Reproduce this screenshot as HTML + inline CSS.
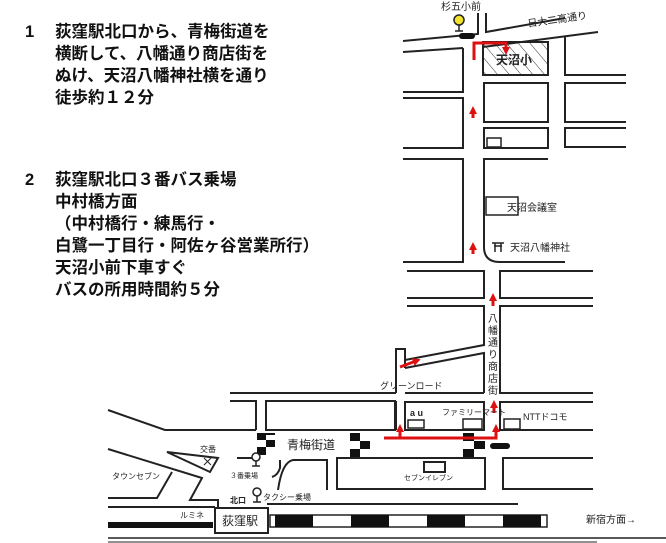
<!DOCTYPE html>
<html><head><meta charset="utf-8"><style>
html,body{margin:0;padding:0;background:#fff;}
body{width:666px;height:543px;overflow:hidden;position:relative;font-family:"Liberation Sans","Noto Sans CJK JP",sans-serif;}
.t{position:absolute;font-weight:bold;font-size:16.5px;line-height:22px;color:#111;white-space:nowrap;}
</style></head><body>
<div class="t" style="left:25px;top:21px;">1</div>
<div class="t" style="left:55px;top:21px;">荻窪駅北口から、青梅街道を<br>横断して、八幡通り商店街を<br>ぬけ、天沼八幡神社横を通り<br>徒歩約１２分</div>
<div class="t" style="left:25px;top:169px;">2</div>
<div class="t" style="left:55px;top:169px;">荻窪駅北口３番バス乗場<br>中村橋方面<br>（中村橋行・練馬行・<br>白鷺一丁目行・阿佐ヶ谷営業所行）<br>天沼小前下車すぐ<br>バスの所用時間約５分</div>
<svg width="666" height="543" style="position:absolute;left:0;top:0" xmlns="http://www.w3.org/2000/svg">
<defs>
<pattern id="h" width="9" height="9" patternUnits="userSpaceOnUse" patternTransform="rotate(-40)"><line x1="0" y1="0" x2="0" y2="9" stroke="#333" stroke-width="1"/></pattern>
<marker id="ar" markerUnits="userSpaceOnUse" markerWidth="8" markerHeight="8" refX="3" refY="4" orient="auto"><path d="M0,0 L8,4 L0,8 z" fill="#d11"/></marker>
</defs>
<g stroke="#222" stroke-width="2" fill="none">
<path d="M403,41 L478,34 L478,13 M486,13 L486,32 L565,18"/>
<path d="M403,52 L463,48 M483,47 L598,32"/>
<path d="M463,48 L463,92 L403,92"/>
<path d="M565,37 L565,75 L626,75"/>
<path d="M403,98 L463,98 L463,148 L403,148"/>
<path d="M403,159 L463,159 L463,262 L403,262"/>
<rect x="484" y="83" width="64" height="39"/>
<rect x="484" y="128" width="64" height="20"/>
<rect x="487" y="138" width="14" height="9" stroke-width="1.5"/>
<path d="M626,83 L565,83 L565,122 L626,122"/>
<path d="M626,128 L565,128 L565,147 L626,147"/>
<path d="M548,159 L484,159 L484,247 Q484,262 500,262 L565,262"/>
<rect x="486" y="197" width="32" height="18" stroke-width="1.5"/>
<path d="M407,271 L484,271 L484,298 L407,298"/>
<path d="M593,271 L500,271 L500,298 L593,298"/>
<path d="M407,306 L484,306 L484,345 L405,360"/>
<path d="M405,368 L484,353 L484,393"/>
<path d="M593,393 L500,393 L500,306 L593,306"/>
<path d="M396,393 L396,349 L405,349 L405,368"/>
<path d="M230,393 L396,393"/>
<path d="M405,393 L484,393" />
<path d="M230,401 L256,401 L256,430"/>
<rect x="266" y="401" width="129" height="29"/>
<path d="M396,401 L396,430"/>
<rect x="405" y="402" width="79" height="28"/>
<path d="M593,402 L500,402 L500,430 L593,430"/>
<rect x="408" y="420" width="16" height="8" stroke-width="1.5"/>
<rect x="463" y="419" width="19" height="10" stroke-width="1.5"/>
<rect x="504" y="419" width="16" height="10" stroke-width="1.5"/>
<path d="M108,410 L165,430 L256,430"/>
<path d="M278,490 Q282,462 293,460 L327,460 L327,490"/>
<rect x="337" y="458" width="148" height="31"/>
<path d="M593,458 L503,458 L503,489 L593,489"/>
<rect x="424" y="462" width="21" height="10" stroke-width="2"/>
<path d="M267,504 L518,504"/>
<path d="M108,449 L202,478 L190,500 L218,500 L218,507"/>
<path d="M108,498 L157,498 L172,472"/>
<path d="M167,452 L218,458 L210,472 Z"/>
<path d="M204,458 L211,465 M211,458 L204,465" stroke-width="1"/>
<path d="M237,458 L252,458"/>
<path d="M280,460 L280,468 Q278,475 272,477"/>
<path d="M108,507 L215,507"/>
<rect x="270" y="515" width="277" height="12" stroke-width="1.5"/>
<rect x="215" y="508" width="53" height="25" fill="#fff"/>
<line x1="108" y1="538" x2="666" y2="538" stroke-width="1.5"/>
<line x1="108" y1="542" x2="597" y2="542" stroke-width="1"/>
</g>
<rect x="483" y="42" width="65" height="33" fill="url(#h)" stroke="#222" stroke-width="2"/>
<g fill="#111">
<rect x="275" y="515" width="38" height="12"/><rect x="351" y="515" width="38" height="12"/>
<rect x="427" y="515" width="38" height="12"/><rect x="503" y="515" width="38" height="12"/>
<rect x="108" y="522" width="105" height="6"/>
</g>
<g fill="#111">
<rect x="257" y="433" width="9" height="7"/><rect x="266" y="440" width="9" height="7"/><rect x="257" y="447" width="9" height="8"/><rect x="266" y="433" width="9" height="2"/>
<rect x="350" y="433" width="10" height="8"/><rect x="360" y="441" width="10" height="8"/><rect x="350" y="449" width="10" height="8"/>
<rect x="463" y="433" width="11" height="8"/><rect x="474" y="441" width="11" height="8"/><rect x="463" y="449" width="11" height="8"/>
</g>
<rect x="490" y="443" width="20" height="6" rx="3" fill="#111"/>
<rect x="459" y="33" width="16" height="6" rx="3" fill="#111"/>
<g stroke="#222" stroke-width="1.5">
<circle cx="459" cy="20" r="5" fill="#f3e22a"/><line x1="459" y1="25" x2="459" y2="31"/><line x1="455" y1="31" x2="463" y2="31"/>
<circle cx="256" cy="457" r="4" fill="#fff"/><line x1="256" y1="461" x2="256" y2="466"/><line x1="252" y1="466" x2="260" y2="466"/>
<circle cx="257" cy="492" r="4" fill="#fff"/><line x1="257" y1="496" x2="257" y2="502"/><line x1="253" y1="502" x2="261" y2="502"/>
</g>
<g stroke="#d11" stroke-width="3" fill="none">
<path d="M474,60 L474,43 L506,43 L506,50" marker-end="url(#ar)"/>
<path d="M384,438 L496,438 L496,429" marker-end="url(#ar)"/>
<path d="M400,438 L400,429" marker-end="url(#ar)"/>
<path d="M494,413 L494,405" marker-end="url(#ar)"/>
<path d="M493,306 L493,298" marker-end="url(#ar)"/>
<path d="M473,118 L473,111" marker-end="url(#ar)"/>
<path d="M473,254 L473,247" marker-end="url(#ar)"/>
<path d="M400,367 L416,361" marker-end="url(#ar)"/>
</g>
<g stroke="#222" stroke-width="1.5"><line x1="492" y1="243" x2="504" y2="243"/><line x1="494" y1="246" x2="502" y2="246"/><line x1="495" y1="243" x2="495" y2="252"/><line x1="501" y1="243" x2="501" y2="252"/></g>
<g font-family="Liberation Sans,Noto Sans CJK JP,sans-serif" fill="#222">
<text x="441" y="10" font-size="10">杉五小前</text>
<text x="528" y="27" font-size="10" transform="rotate(-8 528 27)">日大二高通り</text>
<text x="496" y="64" font-size="12" font-weight="bold">天沼小</text>
<text x="507" y="211" font-size="10">天沼会議室</text>
<text x="510" y="251" font-size="10">天沼八幡神社</text>
<g font-size="10" text-anchor="middle"><text x="493" y="322">八</text><text x="493" y="334">幡</text><text x="493" y="346">通</text><text x="493" y="358">り</text><text x="493" y="370">商</text><text x="493" y="382">店</text><text x="493" y="394">街</text></g>
<text x="380" y="389" font-size="9">グリーンロード</text>
<text x="410" y="416" font-size="9" font-weight="bold">a u</text>
<text x="442" y="415" font-size="8">ファミリーマート</text>
<text x="523" y="420" font-size="9">NTTドコモ</text>
<text x="287" y="449" font-size="12">青梅街道</text>
<text x="404" y="480" font-size="7">セブンイレブン</text>
<text x="200" y="452" font-size="8">交番</text>
<text x="112" y="479" font-size="8">タウンセブン</text>
<text x="230" y="478" font-size="7">３番乗場</text>
<text x="263" y="500" font-size="8">タクシー乗場</text>
<text x="230" y="503" font-size="8" font-weight="bold">北口</text>
<text x="180" y="518" font-size="8">ルミネ</text>
<text x="222" y="525" font-size="12">荻窪駅</text>
<text x="586" y="523" font-size="10">新宿方面→</text>
</g>
</svg>
</body></html>
